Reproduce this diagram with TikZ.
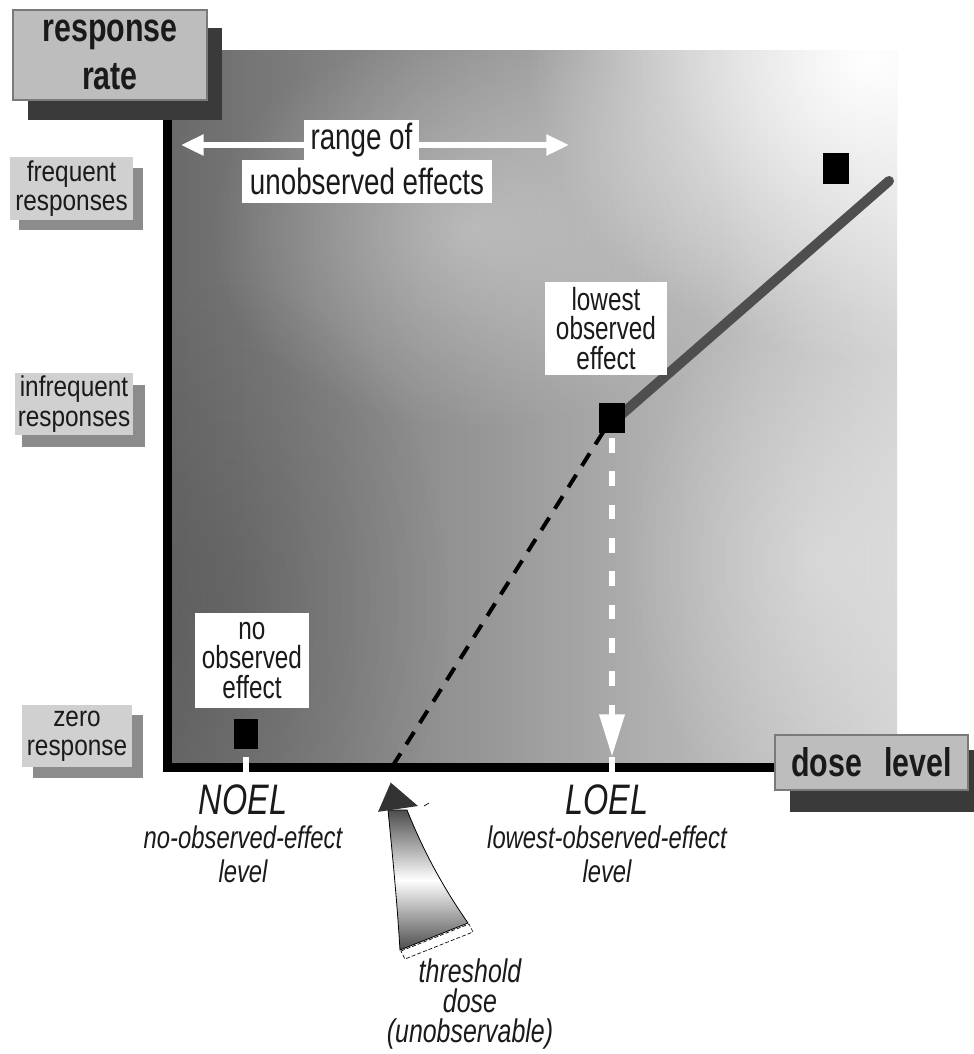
\documentclass[tikz,border=0pt]{standalone}
\usepackage{fontspec}
\setmainfont{Liberation Sans}[FakeStretch=0.76]
\newfontfamily\lblfont{Liberation Sans}[FakeStretch=0.85]
\usetikzlibrary{arrows.meta,fadings,calc}
\tikzfading[name=spot, inner color=transparent!0, outer color=transparent!100]
\definecolor{bgA}{HTML}{6A6A6A}
\definecolor{bgB}{HTML}{9E9E9E}
\definecolor{bgC}{HTML}{D2D2D2}
\definecolor{boxfill}{HTML}{BDBDBD}
\definecolor{boxedge}{HTML}{7A7A7A}
\definecolor{boxdark}{HTML}{3A3A3A}
\definecolor{lblfill}{HTML}{D0D0D0}
\definecolor{lblshadow}{HTML}{8C8C8C}
\definecolor{linegray}{HTML}{4E4E4E}
\definecolor{inkcol}{HTML}{1A1A1A}
\tikzset{
  bigbox/.style={rectangle, fill=boxfill, draw=boxedge, line width=0.8pt, inner sep=0pt, align=center, text=inkcol, font=\fontsize{30}{36}\selectfont\bfseries},
  ylbl/.style={rectangle, fill=lblfill, inner sep=0pt, align=center, text=inkcol, font=\lblfont\fontsize{21.5}{22}\selectfont},
  wbox/.style={rectangle, fill=white, inner sep=0pt, align=center, text=inkcol, font=\fontsize{24}{22}\selectfont},
  rangebox/.style={rectangle, fill=white, inner sep=0pt, align=center, text=inkcol, font=\fontsize{27.4}{24}\selectfont},
  datapt/.style={rectangle, fill=black, inner sep=0pt},
  axisline/.style={line width=6.75pt, black, line join=miter},
  gaptick/.style={white, line width=4.5pt},
  resp/.style={line width=7.5pt, linegray, line cap=round},
  threshline/.style={line width=3pt, black, dash pattern=on 11pt off 8pt},
  wdash/.style={line width=5pt, white, dash pattern=on 11pt off 14pt, -{Triangle[length=32pt, width=18pt]}},
  rangearrow/.style={line width=5pt, white, {Triangle[length=17pt, width=15pt]}-{Triangle[length=17pt, width=15pt]}},
  botlbl/.style={align=center, inner sep=0pt, text=inkcol, font=\itshape\fontsize{23.5}{25.5}\selectfont},
  thlbl/.style={align=center, inner sep=0pt, text=inkcol, font=\itshape\fontsize{24.6}{22.5}\selectfont},
}
\newcommand{\capslbl}[1]{{\fontsize{32}{25.5}\selectfont #1}}
\begin{document}
\begin{tikzpicture}[x=0.75pt, y=-0.75pt]
\useasboundingbox (0,0) rectangle (974,1054);

% background of plot area
\begin{scope}
  \clip (170,50) rectangle (897,767);
  \shade[left color=bgA, right color=bgC, middle color=bgB] (170,50) rectangle (897,767);
  \fill[white, path fading=spot] (870,60) ellipse (340 and 300);
  \fill[white, opacity=0.35, path fading=spot] (470,230) ellipse (260 and 200);
  \fill[white, opacity=0.3, path fading=spot] (820,560) ellipse (200 and 260);
  \fill[black, opacity=0.12, path fading=spot] (230,600) ellipse (220 and 320);
\end{scope}

% coordinates
\coordinate (ytop) at (167,112);
\coordinate (orig) at (167,767);
\coordinate (xend) at (790,767);
\coordinate (thr) at (392,767);
\coordinate (lineend) at (889,181);
\coordinate (loeltip) at (612,757);
\coordinate (rangeL) at (181,145);
\coordinate (rangeR) at (569,145);

% axes
\draw[axisline] (ytop) -- (orig) -- (xend);
\draw[gaptick] (246,757) -- (246,777);
\draw[gaptick] (612,757) -- (612,777);

% lines
\coordinate (loelc) at (612,418);
\draw[threshline] ($(loelc)!0.04!(thr)$) -- (thr);
\draw[resp] (622,414) -- (lineend);
\draw[wdash] (612,438) -- (loeltip);

% data points
\node[datapt, minimum width=18pt, minimum height=22.5pt] (noel) at (246,734) {};
\node[datapt, minimum width=19.5pt, minimum height=22.5pt] (loel) at (loelc) {};
\node[datapt, minimum width=19.5pt, minimum height=23.25pt] (topp) at (836,168) {};

% range of unobserved effects
\draw[rangearrow] (rangeL) -- (rangeR);
\node[rangebox, minimum width=86.25pt, minimum height=30pt] (rangeof) at (361.5,140) {range of};
\node[rangebox, minimum width=187.5pt, minimum height=32.25pt] (unobs) at (367,181.5) {unobserved effects};

% white labels
\node[wbox, minimum width=91.5pt, minimum height=69.75pt] (loweff) at (606,328.5) {lowest\\observed\\effect};
\node[wbox, minimum width=85.5pt, minimum height=71.25pt] (noeff) at (252,660.5) {no\\observed\\effect};

% y labels (shadow first, then box)
\fill[lblshadow] (19,168) rectangle (143,230);
\node[ylbl, minimum width=92.25pt, minimum height=47.25pt] (freq) at (71.5,188.5) {frequent\\responses};

\fill[lblshadow] (22,385) rectangle (145,447);
\node[ylbl, minimum width=88.5pt, minimum height=46.5pt] (infreq) at (74,404) {infrequent\\responses};

\fill[lblshadow] (33,715) rectangle (143,778);
\node[ylbl, minimum width=82.5pt, minimum height=46.5pt] (zero) at (77,736) {zero\\response};

% axis titles
\fill[boxdark] (790,750) rectangle (983,812);
\node[bigbox, minimum width=144.75pt, minimum height=41.25pt] (dose) at (871.5,762.5) {dose\hspace{0.55em}level};

\fill[boxdark] (28,28) rectangle (222,120);
\node[bigbox, minimum width=145.5pt, minimum height=67.5pt] (rrate) at (110,55) {response\\rate};

% bottom labels
\node[botlbl] (noellbl) at (243,834) {\capslbl{NOEL}\\no-observed-effect\\level};
\node[botlbl] (loellbl) at (607,834) {\capslbl{LOEL}\\lowest-observed-effect\\level};

% threshold arrow
\coordinate (thtip) at (390,782);
\shade[top color=black!70, bottom color=black!70, middle color=white]
  (388,810) -- (407,810) .. controls (425,855) and (445,890) .. (468,923)
  -- (400,950) .. controls (397,900) and (392,850) .. cycle;
\draw[black, line width=0.6pt]
  (388,810) -- (407,810) .. controls (425,855) and (445,890) .. (468,923)
  -- (400,950) .. controls (397,900) and (392,850) .. cycle;
\fill[black!80] (thtip) -- (377,812) -- (418,806) -- cycle;
\draw[white, line width=1.2pt] (thtip) -- (377,812);
\draw[black, line width=0.5pt] (424,806) -- (429,803);
\draw[black, line width=0.5pt, dash pattern=on 3pt off 1.5pt] (401,951) -- (469,924) -- (473,932) -- (405,959) -- cycle;
\node[thlbl] (thlbl) at (470,1004) {threshold\\dose\\(unobservable)};
\end{tikzpicture}
\end{document}
